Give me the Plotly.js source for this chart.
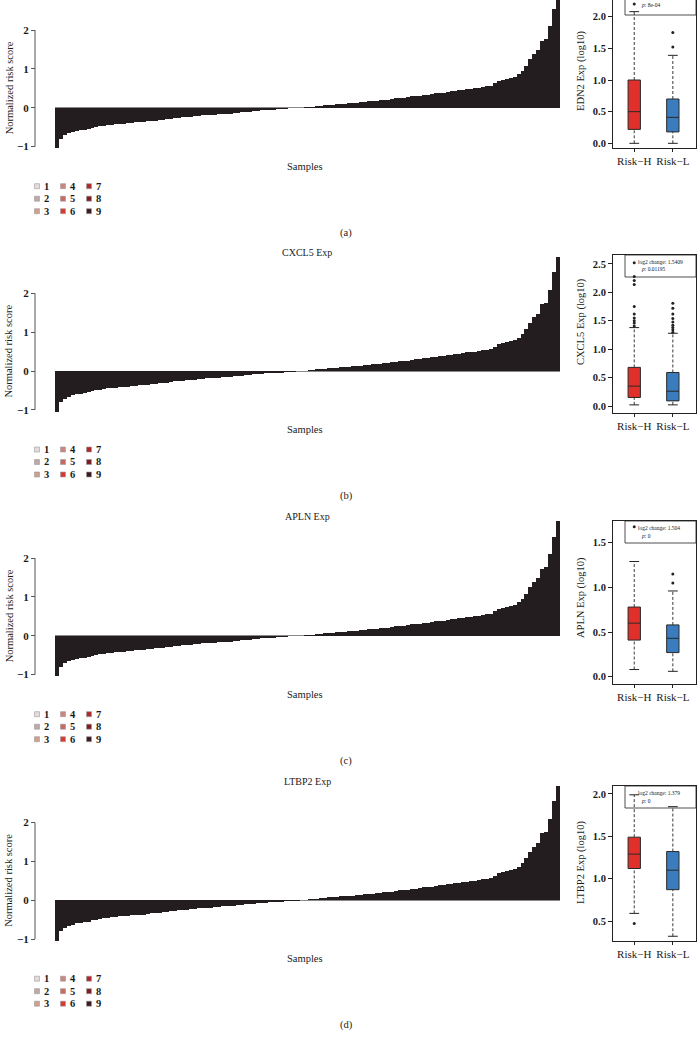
<!DOCTYPE html>
<html>
<head>
<meta charset="utf-8">
<script src="https://cdn.plot.ly/plotly-3.0.1.min.js"></script>
<style>html,body{margin:0;padding:0;background:#fff}</style>
</head>
<body>
<div id="chart" style="width:697px;height:1037px"></div>
<script>
// normalized risk score per sample, sorted (same waterfall in every panel)
var riskScore = [
  -1.05, -0.80, -0.71, -0.66, -0.63, -0.60, -0.58, -0.57, -0.55, -0.52,
  -0.50, -0.48, -0.47, -0.45, -0.44, -0.43, -0.42, -0.41, -0.40, -0.39,
  -0.38, -0.37, -0.37, -0.35, -0.34, -0.33, -0.32, -0.31, -0.30, -0.29,
  -0.27, -0.26, -0.25, -0.24, -0.23, -0.22, -0.21, -0.20, -0.19, -0.19,
  -0.18, -0.17, -0.16, -0.16, -0.15, -0.14, -0.13, -0.12, -0.11, -0.10,
  -0.09, -0.08, -0.07, -0.06, -0.05, -0.05, -0.04, -0.04, -0.03, -0.02,
  -0.02, -0.01, 0.00, 0.01, 0.02, 0.03, 0.04, 0.05, 0.06, 0.07,
  0.08, 0.09, 0.10, 0.10, 0.11, 0.12, 0.13, 0.14, 0.15, 0.16,
  0.17, 0.18, 0.19, 0.20, 0.21, 0.22, 0.24, 0.25, 0.26, 0.27,
  0.29, 0.30, 0.31, 0.33, 0.34, 0.35, 0.37, 0.38, 0.39, 0.41,
  0.42, 0.44, 0.45, 0.46, 0.48, 0.49, 0.50, 0.52, 0.54, 0.55,
  0.57, 0.63, 0.70, 0.72, 0.74, 0.77, 0.80, 0.86, 0.95, 1.08,
  1.25, 1.38, 1.48, 1.73, 1.76, 2.10, 2.55, 2.95
];
var sampleIds = riskScore.map(function (v, i) { return i + 1; });

var genes = ["EDN2", "CXCL5", "APLN", "LTBP2"];
var groups = ["Risk−H", "Risk−L"];

// box stats, one value per gene
var lowH  = [0.00, 0.02, 0.08, 0.59];
var q1H   = [0.22, 0.15, 0.41, 1.12];
var medH  = [0.50, 0.35, 0.60, 1.29];
var q3H   = [1.00, 0.68, 0.78, 1.49];
var highH = [2.08, 1.38, 1.29, 1.99];
var lowL  = [0.00, 0.02, 0.06, 0.32];
var q1L   = [0.18, 0.09, 0.27, 0.87];
var medL  = [0.41, 0.26, 0.43, 1.10];
var q3L   = [0.70, 0.59, 0.58, 1.32];
var highL = [1.39, 1.28, 0.96, 1.85];
var outH = [[2.20], [1.41, 1.46, 1.50, 1.55, 1.62, 1.75, 2.14, 2.21, 2.28, 2.52], [1.68], [0.47]];
var outL = [[1.52, 1.75], [1.30, 1.34, 1.38, 1.42, 1.48, 1.54, 1.62, 1.72, 1.81], [1.05, 1.15], []];
var log2Change = [null, "1.5409", "1.504", "1.379"];
var pValue = ["8e-04", "0.01195", "0", "0"];

var levels = ["1", "2", "3", "4", "5", "6", "7", "8", "9"];
var levelColors = ["#e4dcdc", "#bfa9a8", "#cfa08f", "#c98580", "#c96a60", "#d83a33", "#b0282c", "#7c1f24", "#3b1c20"];
var panelLetters = ["(a)", "(b)", "(c)", "(d)"];

// page geometry (pixels)
var W = 697, H = 1037;
function px(x) { return x / W; }
function py(y) { return 1 - y / H; }
var zeroY = [107.7, 371, 635.7, 900.2];
var unit = 38.8;
var boxTop = [0, 255, 521, 786];
var boxBottom = [148, 412.7, 684, 941];
var boxRange = [[-0.074, 2.264], [-0.118, 2.658], [-0.082, 1.744], [0.264, 2.094]];
var boxTitleY = [71, 322, 598, 862];
var boxFill = ["#e0302b", "#3a7cbd"];
var serif = "Liberation Serif";

var traces = [];
var layout = {
  width: W, height: H,
  margin: {l: 0, r: 0, t: 0, b: 0},
  showlegend: false,
  bargap: 0,
  paper_bgcolor: "#fff",
  plot_bgcolor: "rgba(0,0,0,0)",
  font: {family: serif, color: "#1a1a1a"},
  annotations: [],
  shapes: []
};

function note(text, x, y, extra) {
  var a = {text: text, x: px(x), y: py(y), xref: "paper", yref: "paper",
           xanchor: "center", yanchor: "middle", showarrow: false,
           font: {family: serif, size: 10.5, color: "#1a1a1a"}};
  for (var key in extra) a[key] = extra[key];
  layout.annotations.push(a);
}

for (var k = 0; k < 4; k++) {
  var nb = 2 * k + 1, nx = 2 * k + 2;
  var bxId = "x" + (nb === 1 ? "" : nb), byId = "y" + (nb === 1 ? "" : nb);
  var xId = "x" + nx, yId = "y" + nx;
  var z = zeroY[k];

  // ---- waterfall bars
  var barTop = Math.max(0, z - 3.0 * unit);
  traces.push({
    type: "bar", x: sampleIds, y: riskScore, xaxis: bxId, yaxis: byId,
    marker: {color: "#231d1f", line: {width: 0}}, hoverinfo: "skip"
  });
  layout["xaxis" + (nb === 1 ? "" : nb)] = {
    domain: [px(55), px(560)], range: [0.5, riskScore.length + 0.5],
    visible: false, anchor: byId
  };
  layout["yaxis" + (nb === 1 ? "" : nb)] = {
    domain: [py(z + 1.15 * unit), py(barTop)],
    range: [-1.15, (z - barTop) / unit],
    anchor: "free", position: px(35),
    tickvals: [-1, 0, 1, 2], ticktext: ["−1", "0", "1", "2"],
    ticks: "outside", ticklen: 4, tickcolor: "#555",
    showline: false, showgrid: false,
    zeroline: true, zerolinecolor: "#8a8a8a", zerolinewidth: 1,
    tickfont: {family: serif, size: 11, weight: "bold", color: "#1a1a1a"}
  };
  layout.shapes.push({type: "line", xref: "paper", yref: byId,
    x0: px(35), x1: px(35), y0: -1, y1: 2, line: {color: "#555", width: 1}});

  note("Normalized risk score", 9, z - 0.5 * unit, {textangle: -90});
  note("Samples", 305, z + 58.5, {});
  note(panelLetters[k], 346, z + 125, {});
  if (k > 0) note(genes[k] + " Exp", 307, z - 119, {font: {family: serif, size: 10, color: "#1a1a1a"}});

  // ---- legend 1..9
  for (var j = 0; j < levels.length; j++) {
    var cx = [37, 63, 89][Math.floor(j / 3)];
    var ry = z + [78.5, 91, 103.5][j % 3];
    layout.shapes.push({type: "rect", xref: "paper", yref: "paper",
      x0: px(cx - 2.5), x1: px(cx + 2.5), y0: py(ry + 2.5), y1: py(ry - 2.5),
      fillcolor: levelColors[j], line: {color: "#9a9a9a", width: 0.6}});
    note(levels[j], cx + 4.5, ry, {xanchor: "left",
      font: {family: serif, size: 10.5, weight: "bold", color: "#1a1a1a"}});
  }

  // ---- box plot
  var stats = [
    {lo: lowH[k], q1: q1H[k], med: medH[k], q3: q3H[k], hi: highH[k], out: outH[k]},
    {lo: lowL[k], q1: q1L[k], med: medL[k], q3: q3L[k], hi: highL[k], out: outL[k]}
  ];
  for (var g = 0; g < 2; g++) {
    var s = stats[g], grp = groups[g];
    traces.push({
      type: "scatter", mode: "lines", xaxis: xId, yaxis: yId, hoverinfo: "skip",
      x: [grp, grp, null, grp, grp], y: [s.q3, s.hi, null, s.lo, s.q1],
      line: {color: "#222", width: 0.9, dash: "3px,2px"}
    });
    traces.push({
      type: "scatter", mode: "markers", xaxis: xId, yaxis: yId, hoverinfo: "skip",
      x: [grp, grp], y: [s.lo, s.hi],
      marker: {symbol: "line-ew", size: 7, line: {width: 1, color: "#222"}}
    });
    traces.push({
      type: "box", xaxis: xId, yaxis: yId, hoverinfo: "skip",
      x: [grp], q1: [s.q1], median: [s.med], q3: [s.q3],
      lowerfence: [s.q1], upperfence: [s.q3],
      fillcolor: boxFill[g], line: {color: "#2a2a2a", width: 1},
      width: 0.32, whiskerwidth: 0, boxpoints: false
    });
    traces.push({
      type: "scatter", mode: "markers", xaxis: xId, yaxis: yId, hoverinfo: "skip",
      x: s.out.map(function () { return grp; }), y: s.out,
      marker: {symbol: "circle", size: 3, color: "#222"}
    });
  }
  layout["xaxis" + nx] = {
    domain: [px(613), px(696)], range: [-0.55, 1.6],
    type: "category", categoryorder: "array", categoryarray: groups,
    anchor: yId, showline: true, mirror: k > 0, linecolor: "#222", linewidth: 1,
    ticks: "outside", ticklen: 3, tickcolor: "#222", showgrid: false, zeroline: false,
    tickfont: {family: serif, size: 11, color: "#1a1a1a"}
  };
  layout["yaxis" + nx] = {
    domain: [py(boxBottom[k]), py(boxTop[k])], range: boxRange[k],
    anchor: xId, showline: true, mirror: true, linecolor: "#222", linewidth: 1,
    ticks: "outside", ticklen: 4, tickcolor: "#222", dtick: 0.5, tickformat: ".1f",
    showgrid: false, zeroline: false,
    tickfont: {family: serif, size: 10.5, weight: "bold", color: "#1a1a1a"}
  };
  note(genes[k] + " Exp (log10)", 581, boxTitleY[k], {textangle: -90});

  // ---- inset with fold change and p value
  var t = boxTop[k];
  var small = {family: serif, size: 5.5, color: "#1a1a1a"};
  if (k === 0) {
    layout.shapes.push({type: "rect", xref: "paper", yref: "paper",
      x0: px(625), x1: px(696), y0: py(15), y1: py(-10), line: {color: "#222", width: 0.8}});
    note("<i>p</i>: " + pValue[k], 639, 5, {xanchor: "left", font: small});
  } else {
    layout.shapes.push({type: "rect", xref: "paper", yref: "paper",
      x0: px(625), x1: px(696), y0: py(t + 22), y1: py(t), line: {color: "#222", width: 0.8}});
    note("log2 change: " + log2Change[k], 636, t + 6.5, {xanchor: "left", font: small});
    note("<i>p</i>: " + pValue[k], 639, t + 14.5, {xanchor: "left", font: small});
  }
}

Plotly.newPlot("chart", traces, layout, {displayModeBar: false, staticPlot: true});
</script>
</body>
</html>
